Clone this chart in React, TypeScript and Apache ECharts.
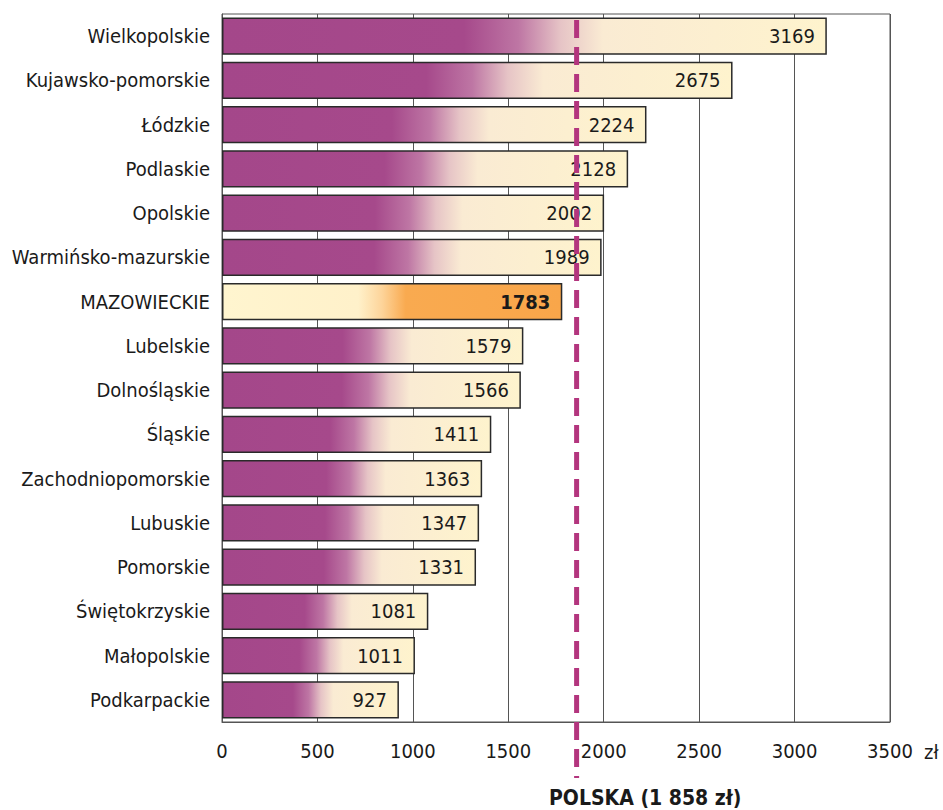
import React, { useEffect, useRef } from "react";
import * as echarts from "echarts";

const categories = [
  "Wielkopolskie",
  "Kujawsko-pomorskie",
  "Łódzkie",
  "Podlaskie",
  "Opolskie",
  "Warmińsko-mazurskie",
  "MAZOWIECKIE",
  "Lubelskie",
  "Dolnośląskie",
  "Śląskie",
  "Zachodniopomorskie",
  "Lubuskie",
  "Pomorskie",
  "Świętokrzyskie",
  "Małopolskie",
  "Podkarpackie",
];
const values = [3169, 2675, 2224, 2128, 2002, 1989, 1783, 1579, 1566, 1411, 1363, 1347, 1331, 1081, 1011, 927];
const highlighted = "MAZOWIECKIE";
const polskaValue = 1858;
const polskaLabel = "POLSKA (1 858 zł)";
const unitLabel = "zł";
const xTicks = { min: 0, max: 3500, interval: 500 };

const FONT = "'DejaVu Sans Condensed', 'Liberation Sans Narrow', sans-serif";

export default function App() {
  const ref = useRef<HTMLDivElement>(null);
  useEffect(() => {
    if (!ref.current) return;
    const chart = echarts.init(ref.current, undefined, { renderer: "svg" });
    const purple = new echarts.graphic.LinearGradient(0, 0, 1, 0, [
      { offset: 0, color: "#A4478A" },
      { offset: 0.4, color: "#A6498B" },
      { offset: 0.49, color: "#BE76A4" },
      { offset: 0.56, color: "#E6C4C6" },
      { offset: 0.63, color: "#FAEBD3" },
      { offset: 1, color: "#FEF3CD" },
    ]);
    const orange = new echarts.graphic.LinearGradient(0, 0, 1, 0, [
      { offset: 0, color: "#FFF5CF" },
      { offset: 0.4, color: "#FFF1CA" },
      { offset: 0.47, color: "#FDD49A" },
      { offset: 0.54, color: "#F9AA50" },
      { offset: 1, color: "#F9A64A" },
    ]);
    const data = values.map((v, i) => {
      const hl = categories[i] === highlighted;
      return {
        value: v,
        itemStyle: { color: hl ? orange : purple },
        label: hl ? { fontWeight: "bold" as const } : undefined,
      };
    });
    chart.setOption({
      animation: false,
      grid: {
        left: 222,
        right: 53,
        top: 14,
        bottom: 88,
        show: true,
        borderColor: "#555",
        borderWidth: 1,
        backgroundColor: "transparent",
      },
      xAxis: {
        type: "value",
        min: xTicks.min,
        max: xTicks.max,
        interval: xTicks.interval,
        axisLine: { show: true, lineStyle: { color: "#555", width: 1 } },
        axisTick: { show: false },
        splitLine: { show: true, lineStyle: { color: "#555", width: 1 } },
        axisLabel: {
          color: "#1a1a1a",
          fontFamily: FONT,
          fontSize: 20,
          margin: 19,
          formatter: (v: number) => String(v),
        },
      },
      yAxis: {
        type: "category",
        inverse: true,
        data: categories,
        axisLine: { show: true, lineStyle: { color: "#555", width: 1 } },
        axisTick: { show: false },
        axisLabel: { color: "#1a1a1a", fontFamily: FONT, fontSize: 20, margin: 12 },
      },
      series: [
        {
          type: "bar",
          data,
          barWidth: "84%",
          itemStyle: { borderColor: "#2a2a2a", borderWidth: 1.5 },
          label: {
            show: true,
            position: "insideRight",
            distance: 12,
            color: "#1a1a1a",
            fontFamily: FONT,
            fontSize: 20,
          },
        },
      ],
    });
    const px = chart.convertToPixel({ xAxisIndex: 0 }, polskaValue) as number;
    chart.setOption({
      graphic: [
        {
          type: "line",
          shape: { x1: px, y1: 20, x2: px, y2: 778 },
          style: { stroke: "#B3357E", lineWidth: 5, lineDash: [18, 9] },
          z: 100,
        },
        {
          type: "text",
          left: 549,
          top: 787,
          style: {
            text: polskaLabel,
            font: `bold 21px ${FONT}`,
            fill: "#1a1a1a",
          },
          z: 100,
        },
        {
          type: "text",
          left: 924,
          top: 742,
          style: { text: unitLabel, font: `20px ${FONT}`, fill: "#1a1a1a" },
        },
      ],
    });
    return () => chart.dispose();
  }, []);
  return <div ref={ref} style={{ width: 943, height: 810, position: "absolute", left: 0, top: 0 }} />;
}
